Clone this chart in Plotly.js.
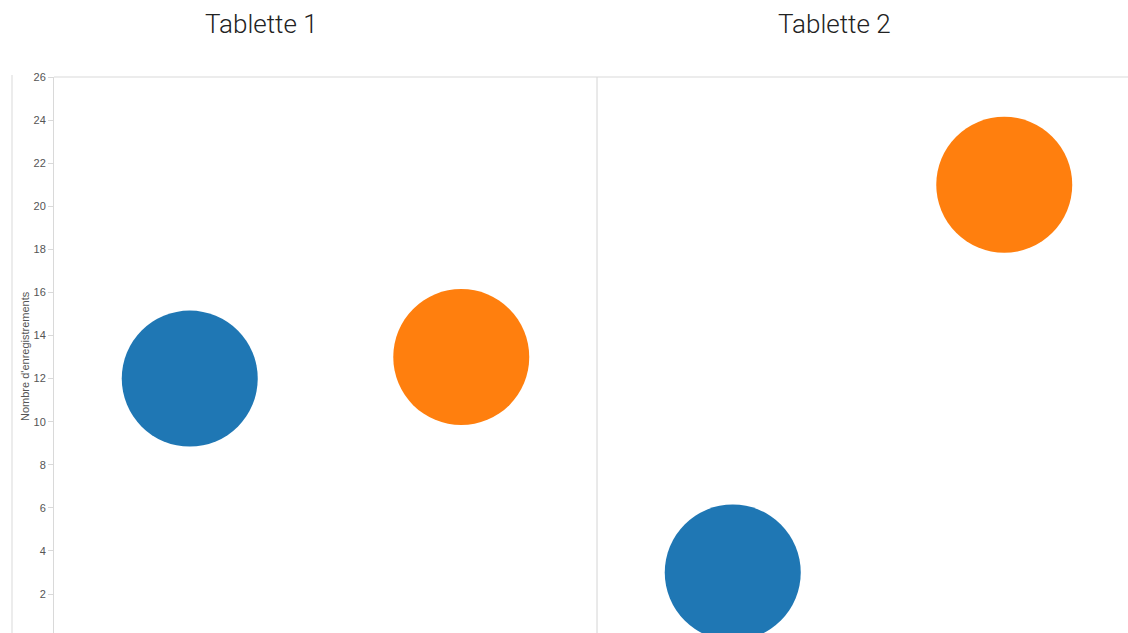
<!DOCTYPE html>
<html><head><meta charset="utf-8">
<script src="https://cdn.plot.ly/plotly-3.0.1.min.js"></script>
<style>html,body{margin:0;padding:0;background:#fff;}#chart{width:1128px;height:633px;}</style>
</head><body><div id="chart"></div>
<script>
const panels = ["Tablette 1", "Tablette 2"];
const categories = ["Catégorie 1", "Catégorie 2"];
const colors = ["#1f77b4", "#ff7f0e"];
const tablette1 = [12, 13];
const tablette2 = [3, 21];
const yTicks = [0,2,4,6,8,10,12,14,16,18,20,22,24,26];
const yTitle = "Nombre d'enregistrements";

const W = 1128, H = 633, L = 54, T = 77;
const series = [tablette1, tablette2];
const traces = series.map((vals, i) => ({
  type: 'scatter', mode: 'markers',
  x: categories, y: vals,
  xaxis: i === 0 ? 'x' : 'x2', yaxis: 'y',
  name: panels[i],
  marker: {color: colors, size: 136, sizemode: 'diameter', line: {width: 0}, opacity: 1},
  hoverinfo: 'x+y', showlegend: false
}));

const px = v => (v - L) / (W - L);
const py = v => (H - v) / (H - T);
const split = px(597);

const layout = {
  width: W, height: H,
  margin: {l: L, r: 0, t: T, b: 0},
  paper_bgcolor: '#fff', plot_bgcolor: '#fff',
  showlegend: false,
  xaxis: {domain: [0, split], type: 'category', range: [-0.5, 1.5], showticklabels: false, ticks: '', showgrid: false, zeroline: false, showline: false, fixedrange: true},
  xaxis2: {domain: [split, 1], type: 'category', range: [-0.5, -0.5 + (W - 597) / ((597 - L) / 2)], showticklabels: false, ticks: '', showgrid: false, zeroline: false, showline: false, anchor: 'y'},
  yaxis: {range: [0.19, 26], tickvals: yTicks, ticktext: yTicks.map(String), ticks: 'outside', ticklen: 5, tickcolor: '#d9d9d9',
    tickfont: {family: 'Liberation Sans, Arial, sans-serif', size: 11, color: '#555'},
    showgrid: false, zeroline: false, showline: true, linecolor: '#d9d9d9', linewidth: 1, mirror: false},
  shapes: [
    {type: 'line', xref: 'paper', yref: 'paper', x0: px(597), x1: px(597), y0: 0, y1: 1, line: {color: '#d4d4d4', width: 1}},
    {type: 'line', xref: 'paper', yref: 'paper', x0: 0, x1: 1, y0: 1, y1: 1, line: {color: '#d9d9d9', width: 1}},
    {type: 'line', xref: 'paper', yref: 'paper', x0: px(12), x1: px(12), y0: 0, y1: py(75), line: {color: '#d9d9d9', width: 1}}
  ],
  annotations: [
    {text: panels[0], xref: 'paper', yref: 'paper', x: px(261), y: py(24), xanchor: 'center', yanchor: 'middle', showarrow: false,
     font: {family: 'Roboto, sans-serif', size: 26, weight: 300, color: '#222'}},
    {text: panels[1], xref: 'paper', yref: 'paper', x: px(834), y: py(24), xanchor: 'center', yanchor: 'middle', showarrow: false,
     font: {family: 'Roboto, sans-serif', size: 26, weight: 300, color: '#222'}},
    {text: yTitle, xref: 'paper', yref: 'paper', x: px(25), y: py(356), xanchor: 'center', yanchor: 'middle', textangle: -90, showarrow: false,
     font: {family: 'Liberation Sans, Arial, sans-serif', size: 11, color: '#555'}}
  ]
};
Plotly.newPlot('chart', traces, layout, {displayModeBar: false, staticPlot: true});
</script></body></html>
